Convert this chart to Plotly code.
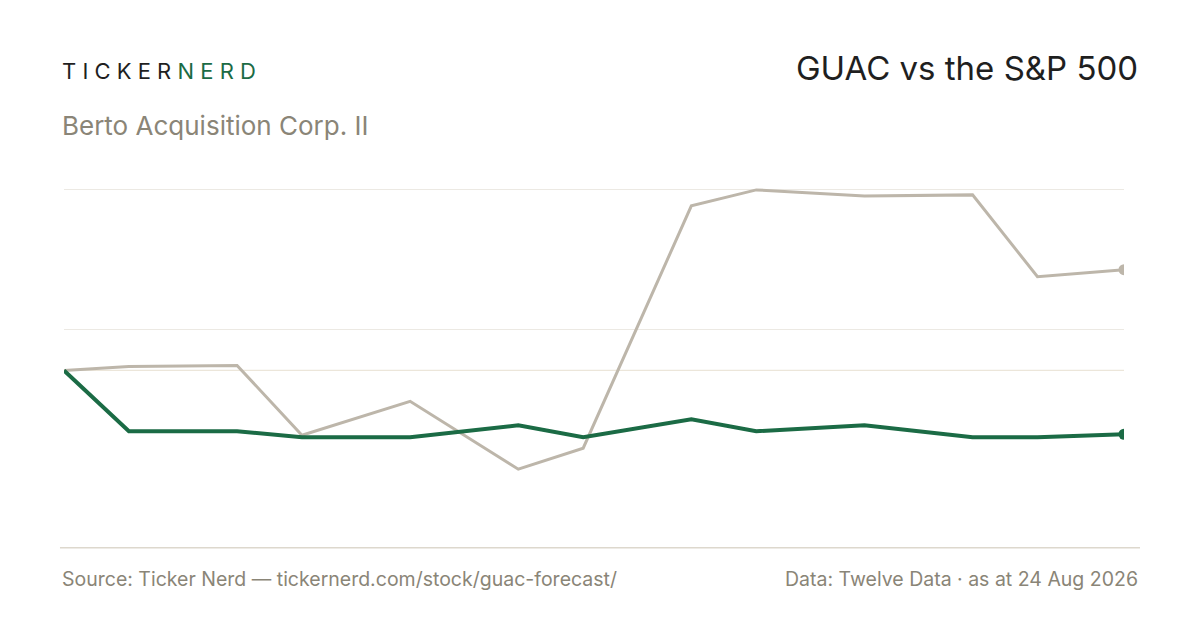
import plotly.graph_objects as go
import pandas as pd

dates = pd.to_datetime(["2026-07-06","2026-07-09","2026-07-14","2026-07-17","2026-07-22","2026-07-27",
                        "2026-07-30","2026-08-04","2026-08-07","2026-08-12","2026-08-17","2026-08-20","2026-08-24"])
# relative performance (arbitrary index units, start = 0)
sp500 = [0, 4, 5, -65, -31, -99, -78, 165, 181, 175, 176, 94, 101]
guac = [0, -61, -61, -67, -67, -55, -67, -49, -61, -55, -67, -67, -64]
grid_vals = [41, 181]

GREEN = "#1b6b45"
GRAY = "#bdb6aa"
TEXT_GRAY = "#8a8577"

fig = go.Figure()
fig.add_trace(go.Scatter(x=dates, y=sp500, mode="lines", line=dict(color=GRAY, width=3), hoverinfo="skip"))
fig.add_trace(go.Scatter(x=dates[-1:], y=sp500[-1:], mode="markers", marker=dict(color=GRAY, size=11), hoverinfo="skip"))
fig.add_trace(go.Scatter(x=dates, y=guac, mode="lines", line=dict(color=GREEN, width=4), hoverinfo="skip"))
fig.add_trace(go.Scatter(x=dates[-1:], y=guac[-1:], mode="markers", marker=dict(color=GREEN, size=11), hoverinfo="skip"))

fig.add_hline(y=0, line=dict(color="#ece6da", width=1.2), layer="below")
fig.add_shape(type="line", xref="paper", yref="paper", x0=-0.0038, x1=1.0151, y0=-0.047, y1=-0.047,
              line=dict(color="#ddd8cd", width=1.5))

fig.update_layout(
    width=1200, height=630, showlegend=False,
    paper_bgcolor="white", plot_bgcolor="white",
    margin=dict(l=56, r=84, t=143, b=108),
    font=dict(family="Inter, Noto Sans, sans-serif"),
    xaxis=dict(range=[dates[0], dates[-1]], showgrid=False, showticklabels=False, zeroline=False, showline=False),
    yaxis=dict(range=[-160, 220], tickvals=grid_vals, showticklabels=False, gridcolor="#ece9e3",
               gridwidth=1, zeroline=False, showline=False),
    annotations=[
        dict(xref="paper", yref="paper", x=-0.0035, y=1.21, xanchor="left", yanchor="middle", showarrow=False,
             text="<span style='color:#1f1f1f'>T I C K E R</span> <span style='color:%s'>N E R D</span>" % GREEN,
             font=dict(size=22)),
        dict(xref="paper", yref="paper", x=-0.0035, y=1.067, xanchor="left", yanchor="middle", showarrow=False,
             text="Berto Acquisition Corp. II", font=dict(size=26, color=TEXT_GRAY)),
        dict(xref="paper", yref="paper", x=1.0151, y=1.218, xanchor="right", yanchor="middle", showarrow=False,
             text="GUAC vs the S&P 500", font=dict(size=33, color="#1f1f1f")),
        dict(xref="paper", yref="paper", x=-0.0035, y=-0.13, xanchor="left", yanchor="middle", showarrow=False,
             text="Source: Ticker Nerd — tickernerd.com/stock/guac-forecast/", font=dict(size=19.5, color=TEXT_GRAY)),
        dict(xref="paper", yref="paper", x=1.0151, y=-0.13, xanchor="right", yanchor="middle", showarrow=False,
             text="Data: Twelve Data · as at 24 Aug 2026", font=dict(size=19.5, color=TEXT_GRAY)),
    ],
)
fig.write_html("out.html")
